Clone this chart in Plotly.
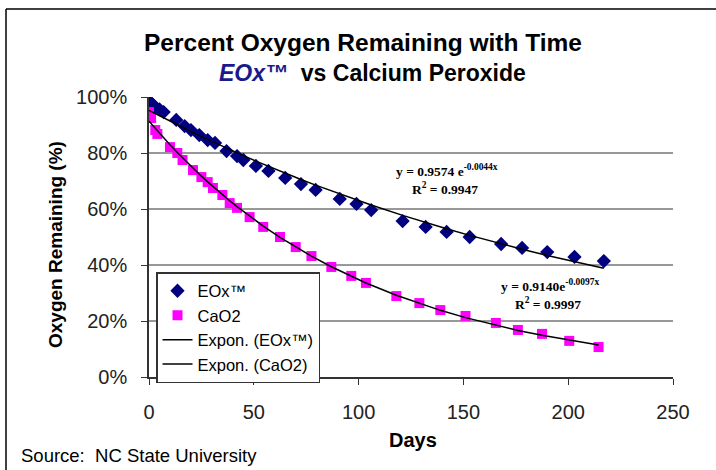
import numpy as np
import plotly.graph_objects as go

# ---- data ----
eox_days = [0, 1, 2, 3, 5, 7, 13, 17, 20, 24, 28, 31.5, 37, 42, 45, 51, 57, 65, 72.5, 79.5,
            91, 99, 106, 121, 132, 142, 153, 168, 178, 190, 203, 217]
eox_vals = [0.986, 0.978, 0.971, 0.964, 0.956, 0.946, 0.918, 0.896, 0.882, 0.864, 0.846, 0.836,
            0.807, 0.789, 0.775, 0.754, 0.736, 0.711, 0.689, 0.668,
            0.636, 0.618, 0.596, 0.557, 0.536, 0.518, 0.500, 0.475, 0.461, 0.446, 0.429, 0.414]
cao2_days = [0, 1, 3, 4, 10, 13.5, 16, 21, 25, 28, 30.5, 35, 38.5, 42, 48, 54.5, 62.5, 70, 77.5,
             87, 96.5, 103.5, 118, 129, 139, 151, 165.5, 176, 187.5, 200.5, 214.5]
cao2_vals = [0.946, 0.925, 0.882, 0.868, 0.821, 0.800, 0.775, 0.739, 0.714, 0.696, 0.675, 0.650,
             0.621, 0.604, 0.571, 0.536, 0.500, 0.464, 0.432,
             0.393, 0.361, 0.336, 0.289, 0.264, 0.239, 0.218, 0.193, 0.168, 0.154, 0.129, 0.107]
y_ticks = [0, 0.2, 0.4, 0.6, 0.8, 1.0]
y_ticklabels = ["0%", "20%", "40%", "60%", "80%", "100%"]
x_ticks = [0, 50, 100, 150, 200, 250]
grid_vals = [0.2, 0.4, 0.6, 0.8]

W, H = 716, 470
L, R, T, B = 149, 43, 97, 93
PW, PH = W - L - R, H - T - B


def px(x):
    return (x - L) / PW


def py(y):
    return (H - B - y) / PH


def expfit(d, v):
    d = np.asarray(d, float)
    b, a = np.polyfit(d, np.log(np.asarray(v, float)), 1)
    xs = np.sort(d)
    return xs, np.exp(a) * np.exp(b * xs)


NAVY = "#000080"
MAG = "#FF00FF"
SANS = "Liberation Sans, Arial, sans-serif"
SERIF = "Liberation Serif, Times New Roman, serif"

fig = go.Figure()
fig.add_trace(go.Scatter(x=eox_days, y=eox_vals, mode="markers", name="EOx™",
                         marker=dict(symbol="diamond", color=NAVY, size=11)))
fig.add_trace(go.Scatter(x=cao2_days, y=cao2_vals, mode="markers", name="CaO2",
                         marker=dict(symbol="square", color=MAG, size=10)))
xs, ys = expfit(eox_days, eox_vals)
fig.add_trace(go.Scatter(x=xs, y=ys, mode="lines", name="Expon. (EOx™)",
                         line=dict(color="black", width=1.5)))
xs, ys = expfit(cao2_days, cao2_vals)
fig.add_trace(go.Scatter(x=xs, y=ys, mode="lines", name="Expon. (CaO2)",
                         line=dict(color="black", width=1.5)))

shapes = []
for g in grid_vals:
    shapes.append(dict(type="line", xref="paper", yref="y", x0=0, x1=1, y0=g, y1=g,
                       line=dict(color="#333333", width=1), layer="below"))
# outer frame (left and top)
shapes.append(dict(type="line", xref="paper", yref="paper", x0=px(6), x1=px(6), y0=py(9), y1=py(470),
                   line=dict(color="black", width=1.5)))
shapes.append(dict(type="line", xref="paper", yref="paper", x0=px(6), x1=px(716), y0=py(9), y1=py(9),
                   line=dict(color="black", width=1.5)))

annotations = [
    dict(text="<b>Percent Oxygen Remaining with Time</b>", x=px(363), y=py(42), xref="paper", yref="paper",
         showarrow=False, xanchor="center", yanchor="middle", font=dict(family=SANS, size=24.5, color="black")),
    dict(text="<b><i><span style='color:#1a1a8c'>EOx™</span></i>  vs Calcium Peroxide</b>", x=px(372), y=py(73),
         xref="paper", yref="paper", showarrow=False, xanchor="center", yanchor="middle",
         font=dict(family=SANS, size=23, color="black")),
    dict(text="<b>Oxygen Remaining (%)</b>", x=px(55), y=py(245), xref="paper", yref="paper",
         showarrow=False, textangle=-90, xanchor="center", yanchor="middle",
         font=dict(family=SANS, size=19, color="black")),
    dict(text="<b>Days</b>", x=px(413), y=py(440), xref="paper", yref="paper", showarrow=False,
         xanchor="center", yanchor="middle", font=dict(family=SANS, size=20, color="black")),
    dict(text="Source:  NC State University", x=px(19), y=py(455), xref="paper", yref="paper",
         showarrow=False, xanchor="left", yanchor="middle", font=dict(family=SANS, size=18.5, color="black")),
    dict(text="<b>y = 0.9574 e<sup>-0.0044x</sup></b>", x=px(447), y=py(170), xref="paper", yref="paper",
         showarrow=False, xanchor="center", yanchor="middle", font=dict(family=SERIF, size=13.5, color="black")),
    dict(text="<b>R<sup>2</sup> = 0.9947</b>", x=px(445), y=py(188), xref="paper", yref="paper",
         showarrow=False, xanchor="center", yanchor="middle", font=dict(family=SERIF, size=13.5, color="black")),
    dict(text="<b>y = 0.9140e<sup>-0.0097x</sup></b>", x=px(550), y=py(285), xref="paper", yref="paper",
         showarrow=False, xanchor="center", yanchor="middle", font=dict(family=SERIF, size=13.5, color="black")),
    dict(text="<b>R<sup>2</sup> = 0.9997</b>", x=px(548), y=py(303), xref="paper", yref="paper",
         showarrow=False, xanchor="center", yanchor="middle", font=dict(family=SERIF, size=13.5, color="black")),
]

fig.update_layout(
    width=W, height=H,
    margin=dict(l=L, r=R, t=T, b=B, pad=0),
    paper_bgcolor="white", plot_bgcolor="white",
    font=dict(family=SANS, size=16, color="#222222"),
    showlegend=True,
    legend=dict(x=px(156), y=py(272), xanchor="left", yanchor="top", bgcolor="white",
                bordercolor="#333333", borderwidth=1.5, font=dict(family=SANS, size=16.5, color="black"),
                tracegroupgap=0, itemwidth=30),
    shapes=shapes,
    annotations=annotations,
    xaxis=dict(range=[0, 250], tickvals=x_ticks, showgrid=False, zeroline=False,
               showline=True, linecolor="#333333", linewidth=1.5, ticks="outside", ticklen=6,
               tickcolor="#333333", ticklabelstandoff=10, tickfont=dict(size=20, color="#222222")),
    yaxis=dict(range=[0, 1.0], tickvals=y_ticks, ticktext=y_ticklabels, showgrid=False, zeroline=False,
               showline=True, linecolor="#333333", linewidth=1.5, ticks="outside", ticklen=6,
               tickcolor="#333333", ticklabelstandoff=10, tickfont=dict(size=20, color="#222222")),
)

fig.write_html("out.html", config={"displayModeBar": False},
               post_script="document.body.style.margin='0';")
